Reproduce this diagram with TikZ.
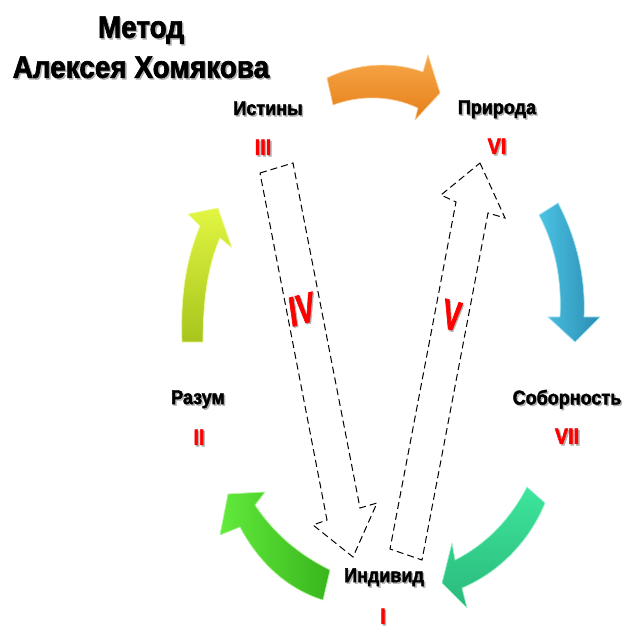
\documentclass[tikz,border=0pt]{standalone}
\usepackage{fontspec}
\setmainfont{Liberation Sans}
\newfontfamily\hfont{Liberation Sans}[FakeStretch=0.9,FakeBold=2]
\newcommand\shd[1]{\makebox[0pt][l]{\kern1.5pt\raisebox{-1.5pt}{\color{black!30}#1}}#1}
\definecolor{orA}{HTML}{F7A84A}
\definecolor{orB}{HTML}{E57E18}
\definecolor{blA}{HTML}{4CC3E3}
\definecolor{blB}{HTML}{2A8DB3}
\definecolor{tlA}{HTML}{3DE59C}
\definecolor{tlB}{HTML}{2BB97B}
\definecolor{grA}{HTML}{62EA3C}
\definecolor{grB}{HTML}{38B51C}
\definecolor{ylA}{HTML}{E2F542}
\definecolor{ylB}{HTML}{A6C51C}
\usetikzlibrary{positioning}

\begin{document}
\begin{tikzpicture}[x=1pt,y=-1pt,
    word/.style={font=\hfont\bfseries\fontsize{20}{22}\selectfont},
    num/.style={text=red,font=\hfont\bfseries\fontsize{22}{24}\selectfont},
    big/.style={text=red,font=\hfont\bfseries\fontsize{42}{44}\selectfont,xscale=0.72},
    blk/.style={line width=0.7pt,line join=round},
    dsh/.style={draw,dashed,line width=1pt,dash pattern=on 7pt off 4pt,line join=miter}]
   \useasboundingbox (0,0) rectangle (643,639);
   \node (title) [align=center,font=\hfont\bfseries\fontsize{31}{40}\selectfont] at (141,48)
     {\shd{Метод}\\\shd{Алексея Хомякова}};
   \node (istiny)    [word] at (268,109) {\shd{Истины}};
   \node (iii)       [num]  at (263,148) {\shd{III}};
   \node (priroda)   [word] at (497,110) {\shd{Природа}};
   \node (vi)        [num]  at (497,147) {\shd{VI}};
   \node (razum)     [word] at (198,400) {\shd{Разум}};
   \node (ii)        [num]  at (199,438) {\shd{II}};
   \node (sobornost) [word] at (567,400) {\shd{Соборность}};
   \node (vii)       [num]  at (567,437) {\shd{VII}};
   \node (individ)   [word] at (384,578) {\shd{Индивид}};
   \node (i)         [num]  at (383,617) {\shd{I}};
   \node (iv)        [big,rotate=11]  at (302,310) {\shd{IV}};
   \node (v)         [big,rotate=-11] at (452,316) {\shd{V}};
   \draw [blk,draw=orA!60!white,top color=orA,bottom color=orB]
     (327,78) .. controls (360,62) and (395,62) .. (423,72) -- (428,55) -- (440,93)
     -- (415,120) -- (418,108) .. controls (390,95) and (360,95) .. (333,105) -- cycle;
   \draw [blk,draw=blA!50!white,left color=blA,right color=blB]
     (539,215) -- (558,203) .. controls (575,235) and (586,275) .. (584,317) -- (600,317)
     -- (575,342) -- (548,317) -- (560,317) .. controls (562,280) and (555,245) .. (539,215);
   \draw [blk,draw=tlA!50!white,top color=tlA,bottom color=tlB]
     (527,487) -- (545,503) .. controls (530,540) and (500,572) .. (462,588) -- (467,608)
     -- (442,583) -- (452,543) -- (455,560) .. controls (485,545) and (510,520) .. (527,487);
   \draw [blk,draw=grA!50!white,left color=grA,right color=grB]
     (330,570) .. controls (300,555) and (275,535) .. (255,505) -- (265,492) -- (228,494)
     -- (220,535) -- (240,527) .. controls (260,565) and (290,590) .. (323,600) -- cycle;
   \draw [blk,draw=ylA!50!white,top color=ylA,bottom color=ylB]
     (182,342) .. controls (180,290) and (188,255) .. (200,226) -- (188,214) -- (218,208)
     -- (232,248) -- (220,238) .. controls (208,265) and (203,300) .. (203,342) -- cycle;
   \draw [dsh] (260,173) -- (293,163) -- (360,508) -- (377,503) -- (353,557)
     -- (313,525) -- (327,520) -- cycle;
   \draw [dsh] (480,163) -- (505,218) -- (488,213) -- (422,560) -- (390,549)
     -- (456,202) -- (441,195) -- cycle;
\end{tikzpicture}
\end{document}
